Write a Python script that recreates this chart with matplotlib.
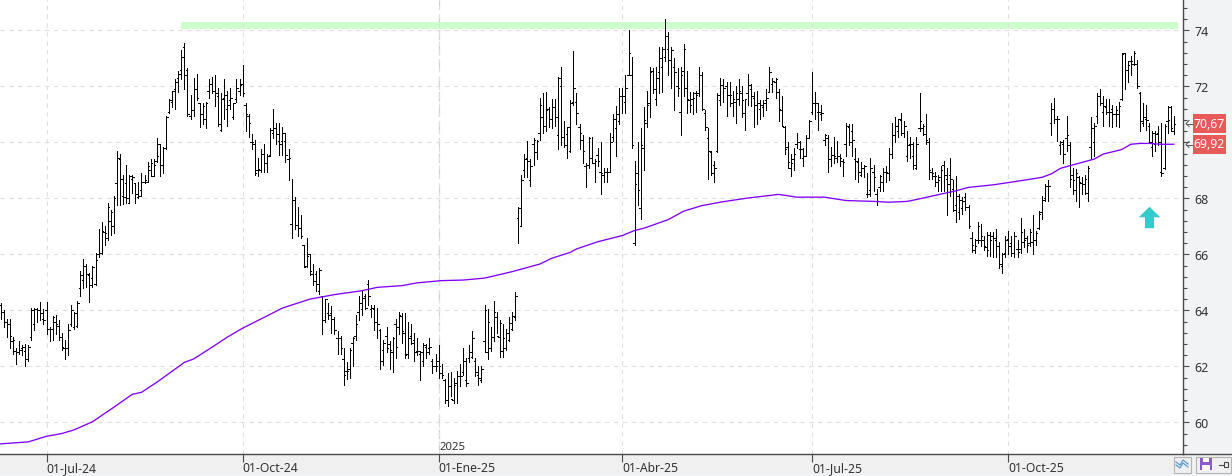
import matplotlib
matplotlib.use("Agg")
import matplotlib.pyplot as plt
from matplotlib.patches import Rectangle
from matplotlib.path import Path
from matplotlib.ticker import MultipleLocator, FixedLocator, FuncFormatter

plt.rcParams['font.family'] = ['Noto Sans', 'DejaVu Sans']

highs = [
64.25,64.00,63.70,63.70,63.05,62.65,62.90,62.75,62.80,62.75,
64.10,64.10,64.10,64.30,64.05,64.30,63.40,63.80,63.85,63.65,
63.20,62.95,63.50,64.20,63.95,64.35,65.40,65.85,65.65,65.35,
65.60,66.05,66.90,67.15,67.00,67.85,67.60,68.10,69.70,69.60,
68.85,69.20,68.85,68.85,68.55,68.60,68.90,68.85,69.30,69.40,
69.40,70.15,69.95,69.85,70.95,71.55,71.85,72.25,72.55,73.30,
73.55,72.65,71.70,72.30,72.45,71.40,71.40,71.45,72.25,72.35,
72.40,71.95,71.75,72.25,71.85,71.95,71.40,72.25,72.25,72.75,
71.40,71.00,70.30,70.10,69.45,69.75,69.95,69.60,70.50,71.20,
70.70,70.70,70.55,70.35,69.75,68.70,68.05,67.70,67.40,66.35,
66.60,66.00,65.65,65.40,65.50,64.50,64.40,64.25,64.15,63.75,
63.25,63.10,62.65,62.15,62.65,63.05,63.85,64.50,64.70,64.60,
65.10,64.20,64.20,64.10,63.35,62.95,63.40,62.90,63.05,63.70,
63.95,63.90,63.90,63.60,63.50,63.20,63.00,62.55,62.85,62.80,
63.00,62.25,62.45,62.75,62.10,61.55,61.75,61.80,61.60,61.85,
62.10,62.65,62.30,62.75,63.25,62.30,62.00,62.00,64.20,64.05,
63.40,64.35,63.95,63.65,63.50,63.35,63.75,63.95,64.65,67.70,
68.85,69.60,70.05,69.40,70.15,70.10,71.60,71.75,71.80,71.25,
71.55,71.55,72.35,72.70,70.75,70.55,71.50,73.25,71.75,70.65,
70.25,69.25,70.20,70.20,69.40,69.80,70.00,69.10,69.10,70.35,
71.00,71.30,71.95,71.95,72.40,74.00,73.05,69.35,70.00,70.50,
71.25,71.85,72.70,72.65,72.70,73.40,73.40,74.40,73.95,73.40,
73.00,72.65,72.70,73.50,72.55,71.80,71.80,71.85,72.70,72.50,
71.15,70.50,69.70,69.35,71.75,72.30,72.25,72.15,72.15,71.85,
72.00,72.25,72.00,71.55,72.45,72.10,71.80,71.85,71.50,71.50,
71.90,72.70,72.30,72.30,71.90,71.65,70.60,70.00,69.60,69.80,
70.35,70.05,69.80,70.25,70.80,72.50,71.80,71.40,71.35,70.30,
70.25,69.85,70.20,70.05,69.60,69.40,70.70,70.65,70.65,69.80,
69.45,69.30,69.20,68.90,69.45,69.20,68.35,68.85,69.10,69.15,
69.80,70.70,70.90,70.85,71.05,70.75,70.40,70.20,70.00,70.20,
71.75,70.65,71.00,70.15,69.10,68.95,68.85,69.15,69.35,69.10,
69.45,68.65,68.80,68.15,68.05,68.20,67.75,66.80,66.55,67.15,
67.10,66.65,66.80,66.80,66.80,66.90,66.45,66.05,66.65,66.85,
66.65,66.80,66.50,67.30,66.90,66.65,66.90,67.40,66.85,67.55,
68.10,68.50,68.65,71.40,71.60,70.95,70.05,70.10,70.95,70.00,
69.10,69.05,68.80,68.75,68.85,69.15,70.90,70.70,71.75,71.90,
71.65,71.55,71.55,71.35,71.30,71.45,73.20,73.20,72.90,73.10,
73.25,72.95,71.80,71.40,71.35,70.70,70.40,70.40,70.60,70.70,
70.65,71.30,71.30,70.95,
]

lows = [
63.70,63.40,63.05,62.65,62.45,62.10,62.45,62.40,62.00,62.20,
62.95,63.30,63.60,63.65,63.50,63.15,62.90,62.95,63.15,62.95,
62.60,62.25,62.40,63.45,63.35,63.40,64.50,64.80,64.85,64.30,
64.85,64.90,65.90,66.00,66.35,66.50,66.70,66.75,67.75,67.75,
67.80,67.85,67.85,68.20,67.85,68.00,68.10,68.55,68.60,68.80,
68.80,69.30,68.80,68.90,69.75,71.05,71.25,71.20,71.80,72.25,
71.90,70.95,70.85,70.95,71.50,70.55,70.65,70.50,71.60,71.75,
71.30,70.60,70.40,70.85,70.60,71.20,70.85,71.45,71.70,71.65,
70.40,70.20,69.75,68.85,68.80,68.95,68.95,68.95,69.50,70.15,
69.95,69.55,69.55,69.30,68.65,66.60,66.90,66.65,66.60,65.55,
65.55,65.25,64.90,64.70,64.60,63.15,63.60,63.70,63.20,63.15,
62.45,62.45,61.35,61.55,61.60,62.00,62.95,63.65,63.85,64.05,
64.20,63.75,63.30,63.00,61.90,62.05,62.50,61.90,61.80,62.30,
63.15,62.85,62.30,62.30,62.80,62.20,62.40,61.50,62.00,62.30,
62.45,61.75,61.85,61.60,61.60,60.70,60.60,60.95,60.70,60.70,
61.30,61.70,61.30,62.15,62.30,61.65,61.35,61.45,62.50,62.25,
62.55,62.90,63.20,62.35,62.35,62.60,62.90,63.30,63.65,66.40,
67.00,68.75,68.75,68.45,69.20,69.40,70.10,70.35,70.40,70.55,
70.50,70.60,69.75,69.90,69.85,69.45,69.65,71.35,70.65,69.75,
69.25,68.40,69.10,69.25,68.60,69.15,68.15,68.60,68.60,68.95,
70.05,69.50,70.65,71.05,71.05,72.40,69.80,66.35,67.75,67.25,
69.00,70.55,70.90,71.75,71.35,71.75,71.80,72.90,72.40,71.95,
71.15,71.65,70.25,71.65,71.05,71.10,71.00,71.10,71.65,71.15,
70.45,68.70,68.85,68.60,69.65,71.35,71.45,70.95,71.30,70.95,
70.70,71.35,70.90,70.45,71.35,71.30,70.55,70.65,70.85,70.95,
71.15,71.80,71.80,71.60,70.75,70.60,69.60,69.10,68.80,69.00,
69.80,69.45,69.15,69.50,70.15,71.00,70.85,70.45,70.80,69.90,
68.95,69.15,69.25,69.30,69.15,68.80,69.50,69.90,69.50,68.70,
68.60,68.80,68.75,68.05,68.10,68.25,67.75,68.25,68.25,68.60,
68.65,69.45,70.00,70.20,70.25,70.20,69.35,69.45,69.05,69.05,
70.40,70.25,69.95,68.70,68.70,68.45,68.25,68.25,68.25,67.40,
68.10,67.55,67.15,67.25,67.45,67.60,66.95,66.10,66.05,66.40,
66.30,66.15,65.95,65.95,65.90,65.90,65.50,65.35,65.90,66.00,
65.95,65.90,65.90,66.05,66.25,66.10,66.30,66.00,66.35,66.90,
67.25,67.90,67.90,70.25,70.70,70.05,69.60,69.25,69.70,68.40,
68.15,67.90,67.70,68.15,68.15,67.90,69.40,69.50,70.70,71.35,
70.60,71.00,70.60,70.55,70.60,70.55,71.50,71.90,72.15,72.40,
72.75,71.95,70.40,70.60,70.45,70.00,69.50,69.70,69.90,68.80,
69.05,70.35,70.40,70.30,
]

opens = [
64.20,63.95,63.60,63.50,62.90,62.55,62.50,62.65,62.55,62.25,
63.05,63.50,64.05,64.00,63.70,64.00,63.35,63.35,63.60,63.45,
63.05,62.65,62.65,63.50,63.40,63.45,64.80,65.10,65.60,65.25,
65.15,64.95,66.00,66.05,66.80,66.60,67.20,67.00,68.55,69.40,
68.10,68.55,67.85,68.70,68.55,68.05,68.30,68.60,68.60,69.00,
68.80,69.35,69.95,69.20,69.80,71.10,71.45,71.90,72.30,72.60,
73.40,72.60,70.95,71.15,71.90,71.40,71.00,70.85,71.85,72.10,
71.85,71.65,70.45,71.60,71.20,71.50,70.90,71.55,71.85,72.10,
71.35,70.95,70.00,69.95,69.00,69.00,69.60,69.25,69.55,70.35,
70.50,70.05,70.05,70.05,69.40,67.10,67.95,67.05,66.95,66.35,
65.60,66.00,65.30,65.30,64.70,64.50,63.65,63.90,63.90,63.70,
63.00,63.00,62.25,61.85,61.90,62.85,63.10,63.95,64.05,64.50,
64.95,64.05,64.05,63.60,63.30,62.60,63.10,62.80,62.50,63.50,
63.40,63.80,63.20,62.45,63.10,62.95,62.55,62.45,62.20,62.70,
62.65,62.20,62.00,62.20,61.75,61.50,60.80,61.30,60.80,61.40,
61.65,61.80,61.50,62.30,62.35,62.20,61.70,61.50,62.90,62.50,
62.65,63.05,63.75,63.05,62.55,62.65,62.95,63.35,63.75,67.30,
67.00,69.00,69.45,68.65,69.95,69.65,70.35,70.90,70.60,71.20,
70.85,71.25,70.25,72.00,70.20,70.30,69.70,71.45,71.45,70.55,
70.10,69.15,69.20,69.45,69.25,69.55,68.95,68.85,68.95,68.95,
70.20,70.50,70.75,71.65,71.45,72.40,72.40,66.40,68.90,67.65,
69.80,70.70,71.40,72.55,71.55,72.50,72.70,73.05,73.35,72.95,
72.70,72.00,71.10,72.55,71.95,71.50,71.55,71.75,71.75,72.40,
71.05,70.15,69.65,69.20,69.70,71.50,72.05,72.00,71.70,71.40,
71.45,71.55,71.75,71.05,71.75,71.90,71.60,71.35,71.20,71.25,
71.50,71.80,72.10,72.15,71.80,71.15,70.55,69.85,69.10,69.40,
69.95,69.75,69.45,69.50,70.15,71.10,71.40,71.10,71.00,70.10,
70.15,69.40,69.55,69.45,69.50,69.35,69.95,70.55,70.40,69.40,
69.30,68.85,69.10,68.15,68.30,68.95,68.15,68.40,68.60,68.95,
68.90,69.60,70.25,70.40,70.80,70.35,69.50,69.95,69.50,69.10,
70.50,70.50,70.30,70.00,68.95,68.80,68.60,68.75,69.20,68.70,
68.85,68.35,67.75,67.50,67.65,68.05,67.70,66.60,66.15,66.50,
66.50,66.50,66.25,66.70,66.65,66.50,66.30,65.60,66.05,66.55,
66.40,66.05,66.20,66.20,66.45,66.60,66.40,66.45,66.50,66.95,
67.50,68.00,68.45,70.70,71.20,70.85,69.90,69.95,70.15,69.90,
68.85,68.30,68.75,68.55,68.50,68.20,69.85,70.00,70.95,71.65,
71.10,71.25,71.10,71.20,71.00,71.00,71.55,73.20,72.60,72.90,
72.80,72.80,71.75,70.70,70.85,70.60,69.85,69.95,70.35,68.95,
69.10,70.75,71.25,70.40,
]

closes = [
63.95,63.60,63.50,63.10,62.95,62.50,62.60,62.70,62.25,62.70,
64.00,64.05,64.00,63.90,63.65,63.35,63.35,63.75,63.50,63.05,
62.70,62.65,63.30,64.00,63.90,64.25,65.25,65.60,65.30,64.90,
65.55,65.80,66.05,66.85,66.75,67.70,67.50,68.00,69.45,68.70,
68.05,68.00,68.80,68.75,68.15,68.10,68.60,68.65,69.15,69.25,
69.20,69.50,69.20,69.80,70.90,71.50,71.85,72.15,72.45,73.05,
72.40,71.00,71.15,71.90,71.60,71.00,71.30,71.40,72.10,71.85,
71.75,70.65,71.55,71.70,71.35,71.60,71.40,71.95,72.05,71.75,
71.00,70.70,70.00,68.90,69.05,69.60,69.25,69.50,70.45,70.50,
70.30,69.95,70.35,69.55,69.45,67.95,67.05,66.95,66.65,65.55,
65.95,65.40,65.05,64.95,65.45,63.65,64.40,63.85,63.70,63.30,
63.00,62.65,61.70,61.85,62.60,63.00,63.50,64.25,64.45,64.10,
64.50,64.10,63.60,63.50,62.20,62.85,62.65,62.60,63.00,62.70,
63.85,63.25,62.40,63.00,62.85,62.50,62.55,62.50,62.75,62.50,
62.70,62.00,62.00,62.00,61.70,60.80,61.30,60.85,61.35,61.65,
61.65,62.20,61.40,62.50,63.00,61.80,61.60,61.90,64.00,63.60,
63.05,63.95,63.10,63.55,63.00,63.20,63.55,63.80,64.50,67.65,
68.65,69.40,69.35,69.15,70.10,70.05,71.35,70.60,71.15,70.85,
71.25,70.90,72.30,70.20,69.90,70.55,71.40,71.95,71.05,70.35,
69.70,69.20,70.15,69.25,69.35,69.35,68.90,68.95,68.95,70.00,
70.85,71.00,71.65,71.65,71.95,73.20,69.90,68.50,68.30,69.90,
70.80,71.35,72.50,71.90,72.30,73.00,73.35,73.80,72.95,73.30,
72.50,71.95,72.40,73.35,71.55,71.35,71.60,71.70,72.40,71.20,
70.55,69.70,68.90,69.10,71.70,72.05,71.95,71.70,71.70,71.55,
71.75,71.85,71.50,71.55,72.05,71.65,71.35,71.40,71.35,71.40,
71.60,72.50,72.20,72.25,71.20,70.60,69.75,69.30,69.25,69.60,
70.00,69.75,69.50,70.15,70.75,71.40,71.40,71.10,71.05,70.25,
69.40,69.55,69.50,69.50,69.45,69.30,70.60,70.00,70.10,69.35,
68.95,69.10,69.15,68.15,69.10,68.75,67.90,68.80,68.95,68.95,
69.60,70.25,70.60,70.85,70.35,70.60,69.90,69.95,69.20,69.95,
70.75,70.60,70.10,69.00,68.90,68.80,68.65,69.00,68.85,68.50,
68.70,67.60,68.10,67.95,67.90,67.70,67.00,66.35,66.30,67.00,
66.65,66.30,66.15,66.50,66.60,66.30,65.65,66.00,66.50,66.30,
66.05,66.65,66.10,66.80,66.50,66.35,66.80,66.50,66.75,67.45,
67.95,68.45,68.45,71.20,70.85,70.85,70.00,69.60,70.25,68.70,
68.65,68.90,68.60,68.50,68.70,69.10,70.50,70.60,71.65,71.40,
71.30,71.10,71.10,71.00,71.15,71.30,73.15,72.60,72.75,72.90,
73.20,72.00,70.75,70.90,70.80,70.00,70.35,70.30,70.00,68.90,
70.60,70.80,70.50,70.67,
]

# 200-session average, sampled at the sessions where its slope changes
ma_sessions = [0,9,15,20,24,30,37,43,46,51,60,63,69,74,79,87,92,101,109,118,
               123,131,136,144,151,158,167,176,180,186,188,195,203,207,210,
               218,223,229,236,244,251,254,260,269,276,285,290,296,300,307,
               312,316,324,332,340,343,346,352,357,360,366,369,372,375,379,383]
ma_values = [59.23,59.30,59.50,59.60,59.73,60.02,60.54,61.00,61.07,61.43,62.14,
             62.26,62.68,63.04,63.36,63.80,64.08,64.40,64.56,64.70,64.82,64.88,
             64.98,65.06,65.08,65.15,65.38,65.65,65.86,66.07,66.19,66.45,66.67,
             66.85,66.93,67.24,67.54,67.74,67.88,68.01,68.10,68.14,68.04,68.04,
             67.92,67.89,67.86,67.89,67.98,68.15,68.27,68.39,68.48,68.61,68.75,
             68.87,69.07,69.25,69.40,69.58,69.74,69.93,69.96,69.96,69.93,69.93]

month_sessions = [15, 79, 143, 203, 265, 329]
month_labels = ["01-Jul-24", "01-Oct-24", "01-Ene-25", "01-Abr-25", "01-Jul-25", "01-Oct-25"]
year_session = 143
year_label = "2025"

resistance_start = 59
resistance_low, resistance_high = 74.05, 74.30
signal_session, signal_price = 375, 67.35
last_price, average_price = 70.67, 69.92

W, H = 1232, 477
PLOT_R, PLOT_B = 1183, 455
PX_PER_BAR = 3.063
GUTTER = "#f2f3f5"
STRIP = "#f0f0f0"
AXIS = "#4a4a4a"
TEXT = "#333333"

fig = plt.figure(figsize=(W / 100, H / 100), dpi=100, facecolor=GUTTER)
ax = fig.add_axes([0, 1 - PLOT_B / H, PLOT_R / W, PLOT_B / H], facecolor="white")

ax.set_xlim(-0.6 / PX_PER_BAR, (PLOT_R - 0.6) / PX_PER_BAR)
ax.set_ylim(60 - (PLOT_B - 423.3) / 28.0, 74 + 31.3 / 28.0)

# Grid
ax.yaxis.set_major_locator(MultipleLocator(2))
ax.yaxis.set_minor_locator(MultipleLocator(0.4))
# The 70 label sits behind the price flags, so the scale leaves it out
ax.yaxis.set_major_formatter(FuncFormatter(lambda v, _: "" if round(v) == 70 else f"{v:.0f}"))
ax.xaxis.set_major_locator(FixedLocator(month_sessions))
ax.set_xticklabels(month_labels, ha="left", fontsize=8.8, color=TEXT)
ax.grid(True, which="major", color="#dfdfdf", lw=0.8, ls=(0, (4, 4)), zorder=0)
ax.axvline(year_session, color="#cfcfcf", lw=0.85, ls=(0, (8, 5)), zorder=0.5)
ax.text(year_session + 0.3, 59.12, year_label, fontsize=8.2, color=TEXT, va="center", ha="left")

# Axis frame and ticks
for side in ("left", "top"):
    ax.spines[side].set_visible(False)
for side in ("right", "bottom"):
    ax.spines[side].set_color(AXIS)
    ax.spines[side].set_linewidth(1.0)
ax.yaxis.tick_right()
ax.tick_params(axis="y", which="major", length=4, width=0.8, color=AXIS, labelcolor=TEXT,
               labelsize=9, pad=4)
ax.tick_params(axis="y", which="minor", length=3, width=0.8, color=AXIS)
ax.tick_params(axis="x", which="major", length=6, width=0.8, color=AXIS, pad=-1)

# Resistance band
ax.add_patch(Rectangle((resistance_start, resistance_low),
                       (1177 / PX_PER_BAR) - resistance_start,
                       resistance_high - resistance_low,
                       facecolor="#ccffcc", edgecolor="none", zorder=1))

# OHLC bars
sessions = list(range(len(highs)))
ax.vlines(sessions, lows, highs, color="black", lw=0.6, antialiased=False, zorder=3)
ax.hlines(opens, [s - 0.5 for s in sessions], sessions, color="black", lw=0.5,
          antialiased=False, zorder=3)
ax.hlines(closes, sessions, [s + 0.5 for s in sessions], color="black", lw=0.5,
          antialiased=False, zorder=3)

# Moving average
ax.plot(ma_sessions, ma_values, color="#8000ff", lw=0.95, zorder=4, solid_joinstyle="round")

# Buy signal arrow
arrow_path = Path([(0, 1), (1, 0.02), (0.42, 0.02), (0.42, -1), (-0.42, -1), (-0.42, 0.02), (-1, 0.02), (0, 1)],
                  closed=True)
ax.plot([signal_session], [signal_price], marker=arrow_path, ms=15.5, color="#33cccc",
        mec="none", zorder=5)

# Overlay in pixel units for the window furniture around the plot
ov = fig.add_axes([0, 0, 1, 1], zorder=10, facecolor="none")
ov.set_xlim(0, W)
ov.set_ylim(H, 0)
ov.axis("off")

# Bottom strip: drawn under the date labels
fig.patches.append(Rectangle((0, 1 - 475 / H), (PLOT_R + 60) / W, 19.5 / H, transform=fig.transFigure,
                             facecolor=STRIP, edgecolor="none", zorder=-1))
ov.plot([PLOT_R, W], [PLOT_B + 0.3, PLOT_B + 0.3], color=AXIS, lw=1.0)

# Price flags on the scale
for value, top in ((last_price, 115), (average_price, 136)):
    ov.add_patch(Rectangle((1193, top), 33, 18.5, facecolor="#e85a5a", edgecolor="none"))
    ov.text(1209.5, top + 9, f"{value:.2f}".replace(".", ","), color="white", fontsize=8.8,
            ha="center", va="center")
    arrow_y = top + 9.5
    ov.plot([1186, 1192], [arrow_y, arrow_y], color="#555555", lw=0.7)
    ov.plot([1189, 1186, 1189], [arrow_y - 3, arrow_y, arrow_y + 3], color="#555555", lw=0.7)

# Toolbar buttons
ov.add_patch(Rectangle((1173.5, 457.5), 17, 16, facecolor="#f0f0f0", edgecolor="#b5b5b5", lw=0.8))
ov.plot([1176, 1180, 1183, 1188], [463, 466, 461, 465], color="#5b9bd5", lw=0.9)
ov.plot([1176, 1180, 1183, 1188], [466, 469, 464, 468], color="#5b9bd5", lw=0.9)
ov.add_patch(Rectangle((1195.5, 457.5), 35, 16, facecolor="#f0f0f0", edgecolor="#b5b5b5", lw=0.8))
ov.add_patch(Rectangle((1200, 459), 12, 12, facecolor="#8a5cc8", edgecolor="none"))
ov.add_patch(Rectangle((1203, 459), 6, 4, facecolor="white", edgecolor="none"))
ov.add_patch(Rectangle((1202, 466), 8, 5, facecolor="white", edgecolor="none"))
ov.plot([1219, 1224], [466, 466], color="#444444", lw=0.8)
ov.add_patch(Rectangle((1224, 463), 3.5, 5, facecolor="none", edgecolor="#444444", lw=0.8))

fig.savefig("out.png", dpi=100, facecolor=fig.get_facecolor())
